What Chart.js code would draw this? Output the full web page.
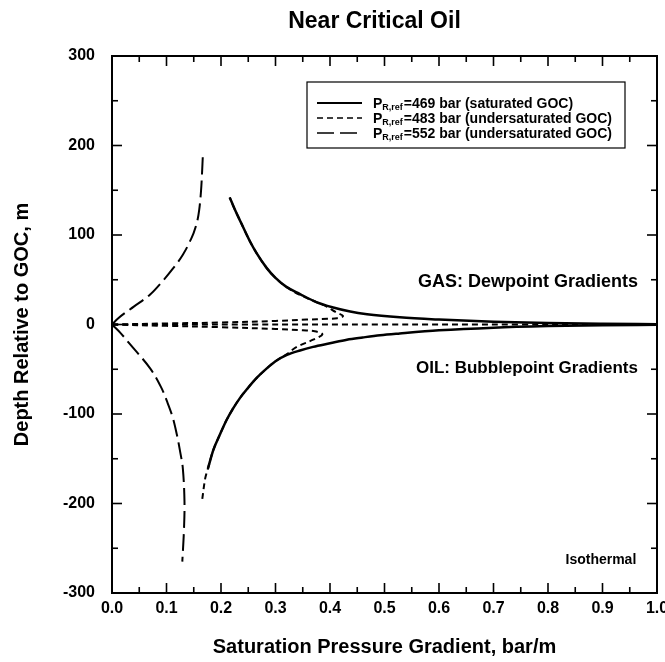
<!DOCTYPE html>
<html>
<head>
<meta charset="utf-8">
<script src="https://cdn.jsdelivr.net/npm/chart.js@4"></script>
<style>
  html, body { margin: 0; padding: 0; background: #fff; }
  canvas { display: block; }
</style>
</head>
<body>
<canvas id="chart" width="665" height="662"></canvas>
<script>
const FONT = "'Liberation Sans', Arial, Helvetica, sans-serif";

// Axis ticks
const xTickValues = [0, 0.1, 0.2, 0.3, 0.4, 0.5, 0.6, 0.7, 0.8, 0.9, 1.0];
const xTickLabels = ['0.0', '0.1', '0.2', '0.3', '0.4', '0.5', '0.6', '0.7', '0.8', '0.9', '1.0'];
const yTickValues = [-300, -200, -100, 0, 100, 200, 300];
const yTickLabels = ['-300', '-200', '-100', '0', '100', '200', '300'];

// Reference pressures shown in the key
const refPressures = [469, 483, 552];
const gocStates = ['saturated GOC', 'undersaturated GOC', 'undersaturated GOC'];

// P_R,ref = 469 bar (saturated GOC): dewpoint branch (gas) and bubblepoint branch (oil)
const sat469GasX = [0.216, 0.225, 0.235, 0.245, 0.253, 0.265, 0.284, 0.300, 0.320, 0.345, 0.375, 0.406, 0.437, 0.468, 0.528, 0.600, 0.700, 0.800, 0.900, 1.000];
const sat469GasY = [142, 129, 116, 103, 93, 80, 63, 52, 42, 34, 25, 19, 14.5, 11.5, 8, 5.5, 3, 1.6, 0.8, 0.3];
const sat469OilX = [0.176, 0.186, 0.198, 0.210, 0.222, 0.235, 0.248, 0.265, 0.284, 0.300, 0.321, 0.345, 0.369, 0.400, 0.431, 0.460, 0.492, 0.528, 0.600, 0.700, 0.800, 0.900, 1.000];
const sat469OilY = [-161, -140, -123, -107, -94, -82, -72, -60, -49, -41, -34, -29, -25, -21, -17, -14.5, -12, -10, -6.5, -3.5, -1.8, -0.8, -0.3];

// P_R,ref = 483 bar (undersaturated GOC)
const und483GasX = [0.000, 0.100, 0.200, 0.300, 0.357, 0.395, 0.413, 0.424, 0.410, 0.394, 0.375, 0.345, 0.320, 0.300, 0.284, 0.265, 0.253, 0.245, 0.235, 0.225, 0.216];
const und483GasY = [0, 1.2, 2.2, 4, 5.5, 6.3, 7, 9.5, 14, 20, 25, 33, 42, 52, 63, 80, 93, 103, 116, 129, 142];
const und483MidX = [0.0, 0.25, 0.5, 0.75, 1.0];
const und483MidY = [0, 0, 0, 0, 0];
const und483OilX = [0.000, 0.100, 0.200, 0.300, 0.350, 0.372, 0.386, 0.369, 0.339, 0.321, 0.300, 0.284, 0.265, 0.248, 0.235, 0.222, 0.210, 0.198, 0.186, 0.176, 0.171, 0.165];
const und483OilY = [0, -1.5, -3, -5, -6.5, -7.5, -11, -17, -25, -33, -41, -49, -60, -72, -82, -94, -107, -123, -140, -161, -172, -198];

// P_R,ref = 552 bar (undersaturated GOC)
const und552GasX = [0.000, 0.011, 0.040, 0.070, 0.095, 0.112, 0.130, 0.143, 0.153, 0.160, 0.164, 0.167];
const und552GasY = [0, 6.7, 20, 33.5, 50, 62.6, 78, 92.8, 108, 128, 155, 193];
const und552OilX = [0.000, 0.015, 0.033, 0.070, 0.090, 0.101, 0.111, 0.119, 0.125, 0.130, 0.133, 0.132, 0.129];
const und552OilY = [0, -9, -22, -49, -70, -86, -103, -123, -142, -161, -198, -230, -265];

// Region labels
const regionNotes = [
  { text: 'GAS: Dewpoint Gradients', x: 0.965, y: 48, size: 18 },
  { text: 'OIL: Bubblepoint Gradients', x: 0.965, y: -49, size: 17 },
  { text: 'Isothermal', x: 0.962, y: -263, size: 14 }
];

const lineStyles = [
  { width: 2.5, dash: [] },
  { width: 2, dash: [6, 4] },
  { width: 2, dash: [17, 6] }
];

function pts(xs, ys) { return xs.map((v, i) => ({ x: v, y: ys[i] })); }

function series(xs, ys, styleIdx, monotone) {
  const s = lineStyles[styleIdx];
  return {
    data: pts(xs, ys),
    showLine: true,
    borderColor: '#000',
    borderWidth: s.width,
    borderDash: s.dash,
    pointRadius: 0,
    tension: 0.35,
    cubicInterpolationMode: monotone ? 'monotone' : 'default',
    fill: false
  };
}

const datasets = [
  series(und552GasX, und552GasY, 2, true),
  series(und552OilX, und552OilY, 2, false),
  series(und483MidX, und483MidY, 1, false),
  series(und483GasX, und483GasY, 1, false),
  series(und483OilX, und483OilY, 1, false),
  series(sat469GasX, sat469GasY, 0, true),
  series(sat469OilX, sat469OilY, 0, true)
];

// Frame with inward major/minor ticks on all four sides
const framePlugin = {
  id: 'frame',
  afterDatasetsDraw(chart) {
    const { ctx, chartArea: a, scales: { x, y } } = chart;
    ctx.save();
    ctx.strokeStyle = '#000';
    ctx.lineWidth = 2;
    ctx.strokeRect(a.left, a.top, a.right - a.left, a.bottom - a.top);
    ctx.lineWidth = 1.6;
    const seg = (x1, y1, x2, y2) => { ctx.beginPath(); ctx.moveTo(x1, y1); ctx.lineTo(x2, y2); ctx.stroke(); };
    const xs = [];
    xTickValues.forEach((v, i) => {
      xs.push([v, 10]);
      if (i < xTickValues.length - 1) xs.push([(v + xTickValues[i + 1]) / 2, 6]);
    });
    xs.forEach(([v, len]) => {
      const p = x.getPixelForValue(v);
      seg(p, a.bottom, p, a.bottom - len);
      seg(p, a.top, p, a.top + len);
    });
    const ys = [];
    yTickValues.forEach((v, i) => {
      ys.push([v, 10]);
      if (i < yTickValues.length - 1) ys.push([(v + yTickValues[i + 1]) / 2, 6]);
    });
    ys.forEach(([v, len]) => {
      const p = y.getPixelForValue(v);
      seg(a.left, p, a.left + len, p);
      seg(a.right, p, a.right - len, p);
    });
    ctx.restore();
  }
};

// Title, region notes and the key
const textPlugin = {
  id: 'texts',
  afterDraw(chart) {
    const { ctx, chartArea: a, scales: { x, y } } = chart;
    ctx.save();
    ctx.fillStyle = '#000';
    ctx.textBaseline = 'middle';

    ctx.font = `bold 23px ${FONT}`;
    ctx.textAlign = 'center';
    ctx.fillText('Near Critical Oil', (a.left + a.right) / 2 - 10, 22);

    ctx.textAlign = 'right';
    regionNotes.forEach(n => {
      ctx.font = `bold ${n.size}px ${FONT}`;
      ctx.fillText(n.text, x.getPixelForValue(n.x), y.getPixelForValue(n.y));
    });

    // key box
    const bx = a.right - 350, by = a.top + 26, bw = 318, bh = 66;
    ctx.lineWidth = 1.2;
    ctx.strokeStyle = '#000';
    ctx.strokeRect(bx, by, bw, bh);
    refPressures.forEach((p, i) => {
      const rowY = by + 21 + i * 15;
      const s = lineStyles[i];
      ctx.lineWidth = s.width * 0.8;
      ctx.setLineDash(s.dash);
      ctx.beginPath();
      ctx.moveTo(bx + 10, rowY);
      ctx.lineTo(bx + 55, rowY);
      ctx.stroke();
      ctx.setLineDash([]);
      ctx.textAlign = 'left';
      ctx.textBaseline = 'alphabetic';
      let tx = bx + 66;
      const base = rowY + 5;
      ctx.font = `bold 14px ${FONT}`;
      ctx.fillText('P', tx, base);
      tx += ctx.measureText('P').width;
      ctx.font = `bold 9px ${FONT}`;
      ctx.fillText('R,ref', tx, base + 2);
      tx += ctx.measureText('R,ref').width + 1;
      ctx.font = `bold 14px ${FONT}`;
      ctx.fillText(`=${p} bar (${gocStates[i]})`, tx, base);
    });
    ctx.restore();
  }
};

new Chart(document.getElementById('chart'), {
  type: 'scatter',
  data: { datasets },
  options: {
    responsive: false,
    animation: false,
    devicePixelRatio: 1,
    layout: { padding: { top: 56, right: 8, left: 0, bottom: 0 } },
    plugins: { legend: { display: false }, title: { display: false }, tooltip: { enabled: false } },
    scales: {
      x: {
        type: 'linear', min: 0, max: 1,
        grid: { display: false, drawTicks: false },
        border: { display: false },
        afterBuildTicks: s => { s.ticks = xTickValues.map(v => ({ value: v })); },
        ticks: {
          callback: (v, i) => xTickLabels[i],
          font: { family: FONT, size: 16, weight: 'bold' },
          color: '#000', padding: 6, maxRotation: 0, autoSkip: false
        },
        title: {
          display: true, text: 'Saturation Pressure Gradient, bar/m',
          font: { family: FONT, size: 20, weight: 'bold' }, color: '#000',
          padding: { top: 0, bottom: 3 }
        },
        afterFit: s => { s.height = 69; s.paddingLeft = 0; s.paddingRight = 0; }
      },
      y: {
        type: 'linear', min: -300, max: 300,
        grid: { display: false, drawTicks: false },
        border: { display: false },
        afterBuildTicks: s => { s.ticks = yTickValues.map(v => ({ value: v })); },
        ticks: {
          callback: (v, i) => yTickLabels[i],
          font: { family: FONT, size: 16, weight: 'bold' },
          color: '#000', padding: 17, autoSkip: false
        },
        title: {
          display: true, text: 'Depth Relative to GOC, m',
          font: { family: FONT, size: 20, weight: 'bold' }, color: '#000',
          padding: { top: 10, bottom: 0 }
        },
        afterFit: s => { s.width = 112; s.paddingTop = 0; s.paddingBottom = 0; }
      }
    }
  },
  plugins: [framePlugin, textPlugin]
});
</script>
</body>
</html>
